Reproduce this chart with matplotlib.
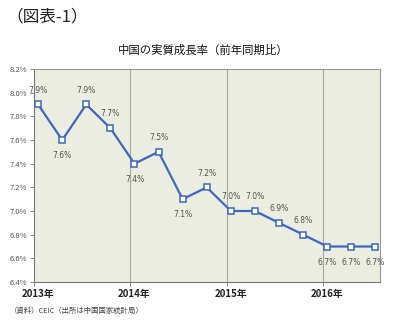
import numpy as np
import matplotlib.pyplot as plt
from matplotlib.ticker import FuncFormatter

plt.rcParams['font.family'] = ['Noto Sans CJK JP', 'DejaVu Sans']

# 四半期ごとの実質GDP成長率(前年同期比, %)
quarters = ['2013Q1', '2013Q2', '2013Q3', '2013Q4',
            '2014Q1', '2014Q2', '2014Q3', '2014Q4',
            '2015Q1', '2015Q2', '2015Q3', '2015Q4',
            '2016Q1', '2016Q2', '2016Q3']
growth = [7.9, 7.6, 7.9, 7.7, 7.4, 7.5, 7.1, 7.2, 7.0, 7.0, 6.9, 6.8, 6.7, 6.7, 6.7]
label_above = [True, False, True, True, False, True, False, True,
               True, True, True, True, False, False, False]
year_labels = ['2013年', '2014年', '2015年', '2016年']

x = np.arange(len(growth)) + 0.17

fig = plt.figure(figsize=(4.01, 3.27), dpi=100)
ax = fig.add_axes([0.0848, 0.1376, 0.8628, 0.6514])
ax.set_facecolor('#EAEDDF')

# 年の区切り線
for yr in range(1, 4):
    ax.axvline(yr * 4, color='#A8A89C', lw=0.8, zorder=1)

ax.plot(x, growth, color='#3F66C4', lw=1.6, marker='s', ms=5,
        mfc='white', mec='#3F66C4', mew=1.1, zorder=3)

for xi, v, up in zip(x, growth, label_above):
    dy = 7 if up else -8
    ax.annotate(f'{v:.1f}%', (xi, v), xytext=(0, dy), textcoords='offset points',
                ha='center', va='bottom' if up else 'top',
                fontsize=5.5, color='#555555', family='DejaVu Sans')

ax.set_xlim(0, 14.36)
ax.set_ylim(6.4, 8.2)
ax.set_yticks(np.arange(6.4, 8.21, 0.2))
ax.yaxis.set_major_formatter(FuncFormatter(lambda v, p: f'{v:.1f}%'))
ax.tick_params(axis='y', labelsize=5.5, labelcolor='#555555', length=3,
               width=0.6, color='#777777', pad=2)

ax.set_xticks([0.17, 4.17, 8.17, 12.17])
ax.set_xticklabels(year_labels, fontsize=7, fontweight='bold', color='#222222')
ax.set_xticks([0, 4, 8, 12], minor=True)
ax.tick_params(axis='x', which='major', length=0, pad=5)
ax.tick_params(axis='x', which='minor', length=3, width=0.6, color='#777777')

for s in ax.spines.values():
    s.set_color('#9A9A9A')
    s.set_linewidth(0.8)
ax.spines['left'].set_color('#777777')
ax.spines['bottom'].set_color('#777777')

fig.text(0.015, 0.975, '（図表-1）', fontsize=12, va='top', ha='left', color='#222222')
fig.text(0.506, 0.845, '中国の実質成長率（前年同期比）', fontsize=8.2, ha='center',
         va='center', color='#111111')
fig.text(0.025, 0.05, '（資料）CEIC（出所は中国国家統計局）', fontsize=5.3, ha='left',
         va='center', color='#444444')

fig.savefig('out.png', dpi=100)
